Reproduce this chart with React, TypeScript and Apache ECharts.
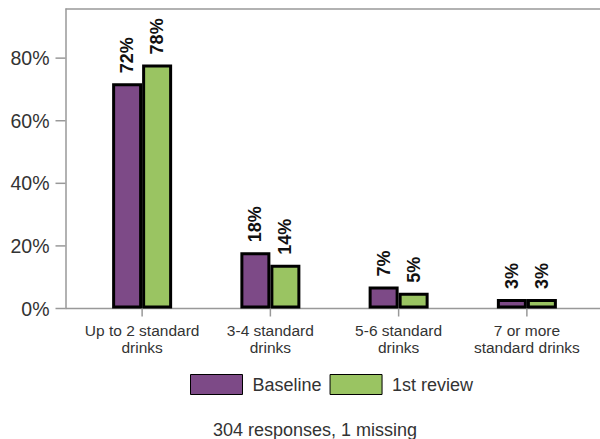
import React, { useEffect, useRef } from "react";
import * as echarts from "echarts";

const categories = ["Up to 2 standard\ndrinks", "3-4 standard\ndrinks", "5-6 standard\ndrinks", "7 or more\nstandard drinks"];
const baseline = [72, 18, 7, 3];
const firstReview = [78, 14, 5, 3];
const yTicks = [0, 20, 40, 60, 80];
const seriesNames = ["Baseline", "1st review"];
const subtitle = "304 responses, 1 missing";

const FONT = "Liberation Sans";
const AXIS = "#999";
const FRAME_X = 65.5;
const TOP_Y = 9;
const BOTTOM_Y = 308.5;

export default function App() {
  const ref = useRef<HTMLDivElement>(null);
  useEffect(() => {
    if (!ref.current) return;
    const chart = echarts.init(ref.current, null, { renderer: "svg" });
    const label = {
      show: true,
      position: "top" as const,
      rotate: 90,
      align: "left" as const,
      verticalAlign: "middle" as const,
      distance: 10,
      formatter: "{c}%",
      fontFamily: FONT,
      fontWeight: "bold" as const,
      fontSize: 18,
      color: "#111",
    };
    const lineStyle = { stroke: AXIS, lineWidth: 1.5 };
    const tickStyle = { stroke: "#888", lineWidth: 2 };
    chart.setOption({
      animation: false,
      backgroundColor: "#fff",
      grid: { left: 78, right: 9, top: TOP_Y, bottom: 439 - BOTTOM_Y, containLabel: false },
      title: {
        text: subtitle,
        left: 208,
        top: 416,
        textStyle: { fontFamily: FONT, fontSize: 18, fontWeight: "normal", color: "#333" },
      },
      legend: {
        data: seriesNames,
        left: 190,
        top: 374,
        icon: "rect",
        itemWidth: 52,
        itemHeight: 20,
        itemGap: 8,
        padding: 0,
        itemStyle: { borderWidth: 1, borderColor: "#000" },
        textStyle: { fontFamily: FONT, fontSize: 18, color: "#333", padding: [0, 0, 0, 5] },
      },
      xAxis: {
        type: "category",
        data: categories,
        axisLine: { show: false },
        axisTick: { show: false },
        axisLabel: { interval: 0, fontFamily: FONT, fontSize: 15.5, color: "#333", lineHeight: 17, margin: 13 },
      },
      yAxis: {
        type: "value",
        min: 0,
        max: 95.7,
        interval: 20,
        offset: 12.5,
        splitLine: { show: false },
        axisLine: { show: true, lineStyle: { color: AXIS, width: 1.5 } },
        axisTick: { show: false },
        axisLabel: {
          customValues: yTicks,
          formatter: "{value}%",
          fontFamily: FONT,
          fontSize: 19.5,
          color: "#333",
          margin: 16,
        },
      },
      graphic: [
        { type: "line", silent: true, shape: { x1: FRAME_X, y1: TOP_Y, x2: 600, y2: TOP_Y }, style: lineStyle },
        { type: "line", silent: true, shape: { x1: FRAME_X, y1: BOTTOM_Y, x2: 600, y2: BOTTOM_Y }, style: lineStyle },
      ],
      series: [
        {
          name: seriesNames[0],
          type: "bar",
          data: baseline,
          barWidth: 30,
          barGap: "0%",
          itemStyle: { color: "#7d4a87", borderColor: "#000", borderWidth: 3 },
          label,
        },
        {
          name: seriesNames[1],
          type: "bar",
          data: firstReview,
          barWidth: 30,
          barGap: "0%",
          itemStyle: { color: "#9ac462", borderColor: "#000", borderWidth: 3 },
          label,
        },
        {
          name: "yTicks",
          type: "custom",
          coordinateSystem: "cartesian2d",
          silent: true,
          clip: false,
          z: 10,
          encode: { x: 0, y: 1 },
          data: yTicks.map((v) => [0, v]),
          renderItem: (_p: any, api: any) => {
            const pt = api.coord([0, api.value(1)]);
            return {
              type: "rect",
              shape: { x: FRAME_X - 10, y: pt[1] - 0.75, width: 10, height: 1.5 },
              style: { fill: "#999" },
            };
          },
        },
        {
          name: "xTicks",
          type: "custom",
          coordinateSystem: "cartesian2d",
          silent: true,
          clip: false,
          z: 10,
          encode: { x: 0, y: 1 },
          data: categories.map((_, i) => [i, 0]),
          renderItem: (_p: any, api: any) => {
            const pt = api.coord([api.value(0), 0]);
            return {
              type: "rect",
              shape: { x: pt[0] - 0.75, y: BOTTOM_Y, width: 1.5, height: 8 },
              style: { fill: "#999" },
            };
          },
        },
      ],
    });
    return () => chart.dispose();
  }, []);
  return <div ref={ref} style={{ position: "fixed", left: 0, top: 0, width: 600, height: 439 }} />;
}
